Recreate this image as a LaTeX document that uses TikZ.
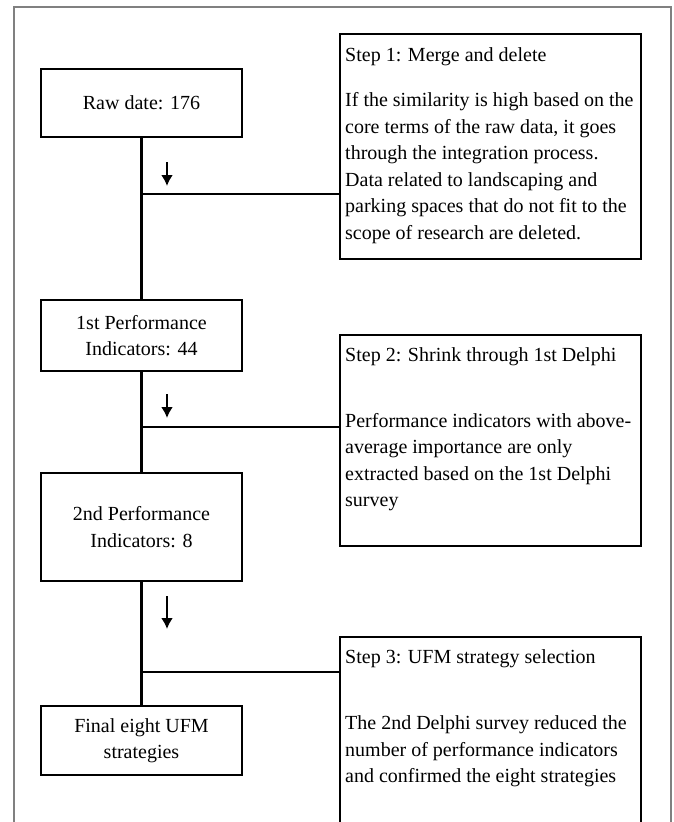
\documentclass[tikz,border=0pt]{standalone}
\usepackage{fontspec}
\setmainfont{Liberation Serif}
\usetikzlibrary{arrows.meta}

\begin{document}
\begin{tikzpicture}[x=1pt, y=-1pt,
        every node/.style = {font=\fontsize{20}{26.5}\selectfont},
        countbox/.style = {shape=rectangle, draw, line width=2pt,
                           align=center, minimum width=201pt, inner sep=0pt},
        stepbox/.style = {shape=rectangle, draw, line width=2pt,
                          minimum width=301pt, inner sep=0pt},
        steptitle/.style = {anchor=base west, inner sep=0pt},
        steptext/.style = {anchor=north west, align=left, inner sep=0pt,
                           execute at begin node=\strut},
        link/.style = {line width=2.2pt},
        down/.style = {line width=2.2pt, -{Latex[length=11pt,width=12pt]}}]
    \useasboundingbox (0,0) rectangle (673,822);
    \clip (0,0) rectangle (673,822);
    % outer frame
    \draw[gray, line width=1.5pt] (14,840) -- (14,7) -- (671,7) -- (671,840);

    % left column
    \node[countbox, minimum height=68pt] (raw) at (141.5,103) {Raw date: 176};
    \node[countbox, minimum height=71pt] (pi1) at (141.5,335.5) {1st Performance\\Indicators: 44};
    \node[countbox, minimum height=108pt] (pi2) at (141.5,527) {2nd Performance\\Indicators: 8};
    \node[countbox, minimum height=69pt] (final) at (141.5,740.5) {Final eight UFM\\strategies};

    % step boxes
    \node[stepbox, minimum height=225pt] (step1) at (490.5,146.5) {};
    \node[stepbox, minimum height=211pt] (step2) at (490.5,440.5) {};
    \node[stepbox, minimum height=300pt] (step3) at (490.5,787) {};

    \node[steptitle] (step1title) at ([xshift=6pt, yshift=-28pt]step1.north west) {Step 1: Merge and delete};
    \node[steptext] (step1body) at ([xshift=6pt, yshift=-59.5pt]step1.north west)
        {If the similarity is high based on the\\core terms of the raw data, it goes\\through the integration process.\\Data related to landscaping and\\parking spaces that do not fit to the\\scope of research are deleted.};
    \node[steptitle] (step2title) at ([xshift=6pt, yshift=-27pt]step2.north west) {Step 2: Shrink through 1st Delphi};
    \node[steptext] (step2body) at ([xshift=6pt, yshift=-79pt]step2.north west)
        {Performance indicators with above-\\average importance are only\\extracted based on the 1st Delphi\\survey};
    \node[steptitle] (step3title) at ([xshift=6pt, yshift=-27pt]step3.north west) {Step 3: UFM strategy selection};
    \node[steptext] (step3body) at ([xshift=6pt, yshift=-79.5pt]step3.north west)
        {The 2nd Delphi survey reduced the\\number of performance indicators\\and confirmed the eight strategies};

    % connectors
    \coordinate (j1) at (141.5,194);
    \coordinate (j2) at (141.5,427);
    \coordinate (j3) at (141.5,672);
    \draw[link] (raw) -- (pi1);
    \draw[link] (pi1) -- (pi2);
    \draw[link] (pi2) -- (final);
    \draw[link] (j1) -- (j1 -| step1.west);
    \draw[link] (j2) -- (j2 -| step2.west);
    \draw[link] (j3) -- (j3 -| step3.west);

    % small arrows
    \coordinate (a1) at (167,162);
    \coordinate (a1e) at (167,186);
    \coordinate (a2) at (167,394);
    \coordinate (a2e) at (167,418);
    \coordinate (a3) at (167,596);
    \coordinate (a3e) at (167,629);
    \draw[down] (a1) -- (a1e);
    \draw[down] (a2) -- (a2e);
    \draw[down] (a3) -- (a3e);
\end{tikzpicture}
\end{document}
